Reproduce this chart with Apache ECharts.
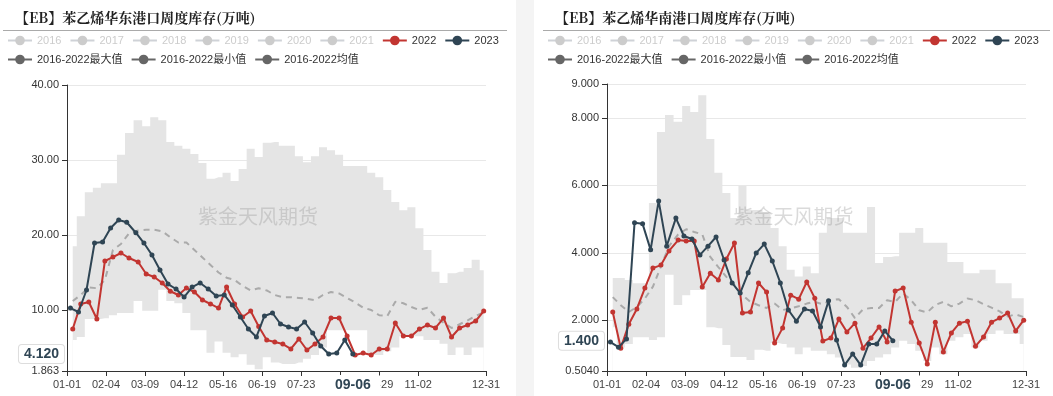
<!DOCTYPE html>
<html><head><meta charset="utf-8">
<script src="https://cdn.jsdelivr.net/npm/echarts@6/dist/echarts.min.js"></script>
<style>
html,body{margin:0;padding:0;background:#f4f4f4;width:1053px;height:396px;overflow:hidden}
#c1{position:absolute;left:0;top:0;width:516px;height:396px;background:#fff}
#c2{position:absolute;left:534px;top:0;width:519px;height:396px;background:#fff}
</style></head><body>
<div id="c1"></div><div id="c2"></div>
<script>
// ---------- categories ----------
const legendYears = ['2016','2017','2018','2019','2020','2021'];
function mmdd(d){return String(d.getUTCMonth()+1).padStart(2,'0')+'-'+String(d.getUTCDate()).padStart(2,'0');}
function weekly(y,m,d,n){const out=[];for(let i=0;i<n;i++){out.push(mmdd(new Date(Date.UTC(y,m-1,d+7*i))));}return out;}
const dayCategories = (function(){const a=[];for(let i=0;i<366;i++){a.push(mmdd(new Date(Date.UTC(2020,0,1+i))));}return a;})();
const dates2022 = weekly(2022,1,6,52);
const dates2023 = weekly(2023,1,4,36);

// ---------- East China (华东) ----------
const east2022 = [7.46,10.8,11.06,8.8,16.53,17.06,17.6,16.93,16.4,14.8,14.4,13.6,12.5,12.0,12.93,12.4,11.33,10.8,10.26,13.06,10.8,9.06,9.86,7.8,6.0,5.73,5.46,4.8,6.13,4.66,5.46,6.4,8.93,8.93,6.53,4.0,4.26,4.0,4.8,4.8,8.26,6.53,6.53,7.46,8.0,7.6,8.93,6.4,7.6,8.0,8.53,9.86];
const east2023 = [10.26,9.73,12.66,18.93,19.06,20.93,22.0,21.7,20.3,18.93,17.33,15.33,13.46,12.8,11.73,13.06,13.6,12.8,11.86,12.0,10.66,9.06,7.46,6.4,9.2,9.6,8.13,7.73,7.46,8.4,6.93,5.2,4.13,4.26,6.0,4.12];
const eastMax = [18.5,22.5,25.7,26.3,26.9,26.9,30.7,33.6,35.3,34.5,35.7,35.3,32.4,31.9,31.5,30.8,29.6,27.5,27.7,28.3,27.2,28.8,31.5,30.4,32.3,32.4,31.9,31.9,30.5,29.7,30.5,31.7,31.3,30.7,29.2,29.2,29.2,28.3,27.7,26.0,24.4,23.3,23.7,20.9,18.0,15.1,13.6,14.9,15.1,15.6,16.7,15.3];
const eastMin = [6.0,6.4,8.8,8.8,8.9,9.3,9.6,9.6,11.2,9.9,9.9,12.7,11.2,10.9,9.6,7.3,7.3,4.3,5.8,4.3,3.7,4.1,2.7,2.1,3.7,3.0,2.8,2.8,3.0,3.5,4.0,5.0,7.3,7.3,7.3,7.3,7.3,4.0,4.0,4.5,5.0,6.5,6.5,6.5,6.0,6.0,5.5,4.0,5.0,4.0,5.0,5.0];
const eastMean = [11.2,12.0,13.0,12.9,14.0,18.0,18.8,20.2,20.6,20.7,20.7,20.5,19.7,19.0,19.0,18.0,17.0,16.0,15.0,14.3,14.0,13.2,12.6,12.9,12.6,12.0,11.7,11.7,11.6,11.5,11.3,12.0,12.4,12.2,11.6,11.0,10.3,10.0,9.3,9.2,11.1,10.9,10.4,10.0,10.3,9.1,8.3,7.6,8.1,8.6,9.2,9.7];

// ---------- South China (华南) ----------
const south2022 = [2.25,1.18,1.89,2.34,2.96,3.55,3.64,4.06,4.38,4.35,4.35,2.99,3.4,3.2,3.82,4.29,2.22,2.25,3.11,2.84,1.33,1.78,2.75,2.63,3.14,2.66,1.39,1.48,2.04,1.66,1.92,1.18,1.48,1.81,1.36,2.87,2.96,1.95,1.33,0.71,1.95,1.07,1.63,1.92,1.98,1.24,1.51,1.95,2.07,2.22,1.69,2.01];
const south2023 = [1.36,1.21,1.45,4.89,4.86,4.09,5.54,4.2,5.03,4.5,4.41,3.94,4.2,4.47,3.79,3.11,2.81,3.41,4.0,4.26,3.76,3.11,2.31,1.98,2.34,2.28,1.81,2.58,1.42,0.68,1.01,0.68,1.3,1.3,1.69,1.40];
const southMax = [3.26,3.26,3.2,3.1,3.1,5.48,7.58,8.08,7.88,8.35,8.17,8.67,7.37,6.37,5.77,5.03,5.98,5.27,5.27,5.21,4.74,4.2,3.5,3.3,3.6,3.4,4.6,5.03,5.03,4.6,4.6,4.6,5.36,3.7,3.88,3.9,4.6,4.6,4.74,4.3,4.3,4.3,3.73,3.73,3.4,3.4,3.5,3.5,3.1,3.1,2.66,2.66];
const southMin = [1.8,1.2,1.3,1.5,1.5,1.42,1.5,3.35,2.46,2.75,2.9,2.9,1.8,1.77,1.27,0.92,0.92,0.83,1.13,1.1,1.33,1.3,1.2,1.0,1.2,1.1,1.1,1.0,0.9,0.7,0.6,0.65,0.8,0.9,1.0,1.2,1.4,1.3,1.1,0.8,1.2,1.0,1.4,1.5,1.6,1.2,1.4,1.6,1.7,1.6,1.6,1.3];
const southMean = [2.69,2.45,2.25,2.4,2.65,3.0,3.6,4.2,4.55,4.7,4.62,4.55,3.88,3.58,3.29,3.05,2.75,2.55,2.45,2.37,2.5,2.31,2.36,2.42,2.5,2.55,2.48,2.6,2.63,2.4,2.07,2.33,2.37,2.37,2.6,2.55,2.8,2.6,2.3,2.24,2.46,2.55,2.42,2.5,2.65,2.6,2.48,2.38,2.27,2.12,2.18,2.1];

const nameMax='2016-2022最大值', nameMin='2016-2022最小值', nameMean='2016-2022均值';
const FONT = '"Liberation Sans","Noto Sans CJK SC",sans-serif';
const TITLE_FONT = '"Noto Serif CJK SC","Noto Sans CJK SC",serif';
const C22='#c23531', C23='#2f4554';

function pairs(dates, vals){return vals.map((v,i)=>[dates[i], v]);}

function build(el, cfg){
  const chart = echarts.init(document.getElementById(el), null, {renderer:'canvas'});
  const W = chart.getWidth();
  const dx = cfg.dx;
  const lastIdx = dayCategories.indexOf(dates2023[dates2023.length-1]);
  const lastVal = cfg.v2023[cfg.v2023.length-1];
  const labelInterval = (i)=> (i%34===0 && i<340) || i===365;
  const series = [];
  legendYears.forEach(y=>series.push({name:y,type:'line',data:[],symbol:'circle',itemStyle:{color:'#ccc'}}));
  series.push({name:nameMax,type:'line',step:'middle',data:pairs(dates2022,cfg.max),symbol:'circle',showSymbol:false,
    lineStyle:{width:0},itemStyle:{color:'#666'},areaStyle:{color:'#e5e5e5',opacity:1},z:1,silent:true});
  series.push({name:nameMin,type:'line',step:'middle',data:pairs(dates2022,cfg.min),symbol:'circle',showSymbol:false,
    lineStyle:{width:0},itemStyle:{color:'#666'},areaStyle:{color:'#ffffff',opacity:1},z:2,silent:true});
  series.push({name:nameMean,type:'line',data:pairs(dates2022,cfg.mean),symbol:'circle',showSymbol:false,
    lineStyle:{width:2,color:'#aaaaaa',type:[6,5]},itemStyle:{color:'#666'},z:3});
  series.push({name:'2022',type:'line',data:pairs(dates2022,cfg.v2022),symbol:'circle',symbolSize:5,showAllSymbol:true,
    lineStyle:{width:2,color:C22},itemStyle:{color:C22},z:4});
  series.push({name:'2023',type:'line',data:pairs(dates2023,cfg.v2023),symbol:'circle',symbolSize:5,showAllSymbol:true,
    lineStyle:{width:2,color:C23},itemStyle:{color:C23},z:5});
  const selected={}; legendYears.forEach(y=>selected[y]=false);
  const gray={itemStyle:{color:'#666'},lineStyle:{color:'#666',width:2,type:'solid',opacity:1}};
  const option = {
    animation:false,
    textStyle:{fontFamily:FONT},
    title:{text:cfg.title,left:10+dx,top:6,textStyle:{fontSize:14,fontWeight:'bold',color:'#222',fontFamily:TITLE_FONT}},
    legend:{left:2+dx,top:30,width:W,itemGap:8,itemWidth:24,itemHeight:12,selected:selected,
      textStyle:{fontSize:11,color:'#333',fontFamily:FONT},inactiveColor:'#ccc',
      data:[...legendYears,'2022','2023',{name:nameMax,...gray},{name:nameMin,...gray},{name:nameMean,...gray}]},
    grid:{left:cfg.left,right:cfg.right,top:cfg.top,bottom:25,containLabel:false},
    xAxis:{type:'category',data:dayCategories,boundaryGap:false,
      axisLine:{lineStyle:{color:'#333'}},
      axisTick:{interval:labelInterval,lineStyle:{color:'#333'}},
      axisLabel:{interval:labelInterval,color:'#444',fontSize:11,margin:8,fontFamily:FONT},
      splitLine:{show:false},
      axisPointer:{show:true,type:'none',status:'show',value:lastIdx,
        label:{show:true,backgroundColor:'#fff',color:C23,fontWeight:'bold',fontSize:14,padding:[3,10],margin:4,fontFamily:FONT}}},
    yAxis:{type:'value',min:cfg.ymin,max:cfg.ymax,
      axisLine:{show:true,lineStyle:{color:'#333'}},
      axisTick:{show:true,lineStyle:{color:'#333'}},
      axisLabel:{color:'#333',fontSize:11,fontFamily:FONT,formatter:(v)=>Number(v).toPrecision(4)},
      splitLine:{lineStyle:{color:'#e8e8e8'}},
      axisPointer:{show:true,type:'none',status:'show',value:lastVal,
        label:{show:true,backgroundColor:'#fff',borderColor:'#ddd',borderWidth:1,color:C23,fontWeight:'bold',fontSize:14,padding:[2,5],
          formatter:(p)=>Number(p.value).toFixed(3),fontFamily:FONT}}},
    graphic:[
      {type:'line',shape:{x1:3+dx,y1:30.5,x2:W-9+dx,y2:30.5},style:{stroke:'#aaa',lineWidth:1},z:10},
      {type:'text',left:'center',top:206,z:100,style:{text:'紫金天风期货',fill:'rgba(150,150,150,0.35)',font:'20px "Noto Sans CJK SC",sans-serif'}}
    ],
    series:series
  };
  chart.setOption(option);
  return chart;
}

build('c1',{title:'【EB】苯乙烯华东港口周度库存(万吨)',left:67,right:30,top:85,ymin:1.863,ymax:40,dx:0,
  v2022:east2022,v2023:east2023,max:eastMax,min:eastMin,mean:eastMean});
build('c2',{title:'【EB】苯乙烯华南港口周度库存(万吨)',left:73,right:27,top:84,ymin:0.504,ymax:9,dx:6,
  v2022:south2022,v2023:south2023,max:southMax,min:southMin,mean:southMean});
</script>
</body></html>
